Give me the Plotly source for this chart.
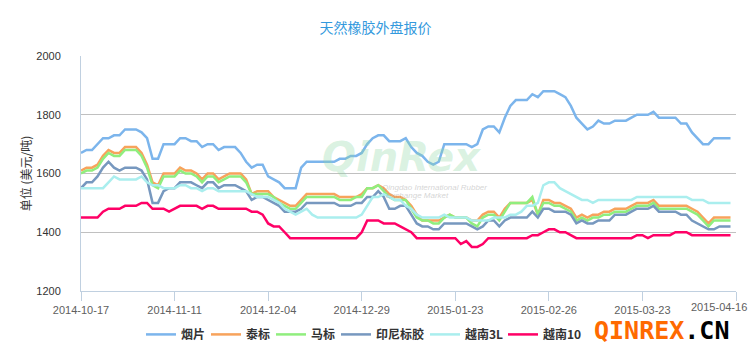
import plotly.graph_objects as go

# ---- data (USD/ton) ----
tick_labels = ["2014-10-17", "2014-11-11", "2014-12-04", "2014-12-29",
               "2015-01-23", "2015-02-26", "2015-03-23", "2015-04-16"]
tick_positions = [0, 17, 34, 51, 68, 85, 102, 119]

series_names = ["烟片", "泰标", "马标", "印尼标胶", "越南3L", "越南10"]

yanpian = [1670, 1680, 1680, 1700, 1720, 1720, 1730, 1730, 1750, 1750,
           1750, 1740, 1720, 1650, 1650, 1700, 1700, 1700, 1720, 1720,
           1710, 1710, 1690, 1700, 1700, 1680, 1690, 1690, 1690, 1670,
           1640, 1620, 1630, 1630, 1590, 1580, 1570, 1550, 1550, 1550,
           1620, 1640, 1640, 1640, 1640, 1640, 1640, 1650, 1650, 1660,
           1660, 1670, 1700, 1720, 1730, 1730, 1710, 1710, 1710, 1720,
           1690, 1670, 1660, 1640, 1630, 1640, 1700, 1700, 1700, 1700,
           1700, 1690, 1700, 1750, 1760, 1760, 1740, 1790, 1830, 1850,
           1850, 1850, 1870, 1860, 1880, 1880, 1880, 1870, 1860, 1830,
           1790, 1770, 1750, 1760, 1780, 1770, 1770, 1780, 1780, 1780,
           1790, 1800, 1800, 1800, 1810, 1790, 1790, 1790, 1790, 1770,
           1770, 1740, 1720, 1700, 1700, 1720, 1720, 1720, 1720]

taibiao = [1610, 1620, 1620, 1630, 1660, 1680, 1670, 1670, 1690, 1690,
           1690, 1670, 1630, 1570, 1560, 1600, 1600, 1600, 1620, 1610,
           1610, 1600, 1580, 1600, 1600, 1580, 1590, 1600, 1600, 1600,
           1580, 1530, 1540, 1540, 1540, 1520, 1510, 1500, 1490, 1490,
           1510, 1530, 1530, 1530, 1530, 1530, 1530, 1520, 1520, 1520,
           1520, 1530, 1550, 1550, 1560, 1550, 1530, 1520, 1520, 1510,
           1490, 1460, 1440, 1440, 1440, 1440, 1450, 1460, 1450, 1450,
           1450, 1440, 1440, 1460, 1470, 1470, 1450, 1480, 1500, 1500,
           1500, 1500, 1510, 1460, 1510, 1510, 1500, 1500, 1490, 1480,
           1450, 1460, 1450, 1460, 1460, 1470, 1470, 1480, 1480, 1480,
           1490, 1500, 1500, 1500, 1510, 1490, 1490, 1490, 1490, 1490,
           1490, 1480, 1470, 1450, 1430, 1450, 1450, 1450, 1450]

mabiao = [1600, 1610, 1610, 1620, 1650, 1670, 1660, 1660, 1680, 1680,
          1680, 1660, 1620, 1560, 1550, 1590, 1590, 1590, 1610, 1600,
          1600, 1590, 1570, 1590, 1590, 1570, 1580, 1590, 1590, 1590,
          1570, 1530, 1530, 1530, 1530, 1520, 1500, 1490, 1480, 1480,
          1500, 1520, 1520, 1520, 1520, 1520, 1520, 1510, 1510, 1510,
          1520, 1520, 1550, 1550, 1560, 1540, 1520, 1510, 1510, 1510,
          1480, 1450, 1440, 1440, 1430, 1430, 1450, 1460, 1450, 1450,
          1450, 1430, 1420, 1450, 1460, 1460, 1440, 1470, 1500, 1500,
          1500, 1500, 1520, 1460, 1500, 1500, 1490, 1490, 1480, 1470,
          1440, 1450, 1440, 1450, 1450, 1460, 1460, 1470, 1470, 1470,
          1480, 1490, 1490, 1490, 1500, 1480, 1480, 1480, 1480, 1480,
          1480, 1470, 1460, 1440, 1420, 1440, 1440, 1440, 1440]

yinni = [1550, 1570, 1570, 1590, 1620, 1640, 1620, 1610, 1620, 1620,
         1620, 1610, 1580, 1500, 1500, 1540, 1550, 1550, 1570, 1570,
         1570, 1560, 1550, 1570, 1570, 1550, 1560, 1560, 1560, 1550,
         1540, 1510, 1520, 1520, 1510, 1500, 1490, 1470, 1470, 1470,
         1480, 1500, 1500, 1500, 1500, 1500, 1500, 1490, 1490, 1490,
         1500, 1500, 1520, 1520, 1540, 1520, 1480, 1480, 1490, 1490,
         1460, 1430, 1420, 1420, 1410, 1410, 1430, 1430, 1430, 1430,
         1430, 1420, 1410, 1420, 1440, 1440, 1420, 1440, 1450, 1450,
         1450, 1450, 1470, 1450, 1480, 1480, 1470, 1470, 1470, 1460,
         1430, 1440, 1430, 1430, 1440, 1440, 1440, 1460, 1460, 1460,
         1470, 1480, 1480, 1480, 1490, 1470, 1470, 1470, 1470, 1460,
         1460, 1440, 1430, 1420, 1410, 1410, 1420, 1420, 1420]

yuenan3l = [1550, 1550, 1550, 1550, 1550, 1570, 1590, 1580, 1580, 1580,
            1580, 1590, 1570, 1560, 1560, 1550, 1550, 1550, 1560, 1560,
            1550, 1550, 1540, 1550, 1550, 1540, 1540, 1540, 1540, 1540,
            1540, 1530, 1520, 1520, 1520, 1510, 1500, 1480, 1470, 1460,
            1470, 1480, 1460, 1450, 1450, 1450, 1450, 1450, 1450, 1450,
            1450, 1460, 1490, 1520, 1520, 1530, 1520, 1510, 1510, 1490,
            1480, 1460, 1450, 1450, 1450, 1450, 1460, 1450, 1450, 1450,
            1450, 1440, 1440, 1440, 1440, 1450, 1450, 1450, 1460, 1460,
            1470, 1490, 1490, 1500, 1560, 1570, 1570, 1550, 1540, 1530,
            1520, 1510, 1510, 1500, 1510, 1510, 1510, 1510, 1510, 1510,
            1510, 1520, 1520, 1520, 1520, 1520, 1520, 1520, 1520, 1520,
            1520, 1510, 1510, 1510, 1500, 1500, 1500, 1500, 1500]

yuenan10 = [1450, 1450, 1450, 1450, 1470, 1480, 1480, 1480, 1490, 1490,
            1490, 1500, 1500, 1480, 1480, 1480, 1470, 1480, 1490, 1490,
            1490, 1490, 1480, 1490, 1490, 1480, 1480, 1480, 1480, 1480,
            1480, 1470, 1470, 1460, 1430, 1420, 1420, 1400, 1380, 1380,
            1380, 1380, 1380, 1380, 1380, 1380, 1380, 1380, 1380, 1380,
            1380, 1400, 1440, 1440, 1440, 1430, 1430, 1430, 1420, 1410,
            1400, 1380, 1380, 1380, 1380, 1380, 1380, 1380, 1380, 1360,
            1370, 1350, 1350, 1360, 1380, 1380, 1380, 1380, 1380, 1380,
            1380, 1380, 1390, 1390, 1400, 1410, 1410, 1400, 1400, 1390,
            1380, 1380, 1380, 1380, 1380, 1380, 1380, 1380, 1380, 1380,
            1380, 1390, 1390, 1380, 1390, 1390, 1390, 1390, 1400, 1400,
            1400, 1390, 1390, 1390, 1390, 1390, 1390, 1390, 1390]

all_series = [yanpian, taibiao, mabiao, yinni, yuenan3l, yuenan10]
colors = ["#7cb5ec", "#f7a35c", "#90ee7e", "#7798bf", "#aaeeee", "#ff0066"]
legend_widths = [20, 20, 20, 44, 33, 40]

FONT = "Arial, 'Liberation Sans', 'Noto Sans CJK SC', sans-serif"
CJK = "'Noto Sans CJK SC', 'Microsoft YaHei', sans-serif"

fig = go.Figure()
for name, vals, col, lw in zip(series_names, all_series, colors, legend_widths):
    fig.add_trace(go.Scatter(
        x=list(range(len(vals))), y=vals, name=name, mode="lines",
        line=dict(color=col, width=2.5), hoverinfo="skip", legendwidth=lw))

# last date label is justified inside the chart, as in the reference
fig.add_annotation(xref="x", yref="paper", x=tick_positions[-1], y=-0.068,
                   xanchor="right", yanchor="middle", xshift=13,
                   text=tick_labels[-1], showarrow=False,
                   font=dict(family=FONT, size=11, color="#606060"))

# watermark texts
fig.add_annotation(xref="paper", yref="paper", x=0.49, y=0.57,
                   text="<b><i>QinRex</i></b>", showarrow=False,
                   font=dict(family="'DejaVu Sans', sans-serif", size=40,
                             color="rgba(140,215,165,0.33)"))
fig.add_annotation(xref="paper", yref="paper", x=0.54, y=0.44,
                   text="<i>Qingdao International Rubber</i>", showarrow=False,
                   font=dict(family=FONT, size=8, color="rgba(170,170,170,0.5)"))
fig.add_annotation(xref="paper", yref="paper", x=0.513, y=0.405,
                   text="<i>Exchange Market</i>", showarrow=False,
                   font=dict(family=FONT, size=8, color="rgba(170,170,170,0.5)"))
fig.add_annotation(xref="paper", yref="paper", x=0.887, y=-0.168,
                   xanchor="center", yanchor="middle", showarrow=False,
                   text="<b><span style='color:#ff6a00'>QINREX</span>"
                        "<span style='color:#000000'>.CN</span></b>",
                   font=dict(family="'DejaVu Sans Mono', monospace", size=25))

fig.update_layout(
    width=751, height=357, autosize=False,
    margin=dict(l=81, r=15, t=56, b=66, autoexpand=False),
    paper_bgcolor="white", plot_bgcolor="white",
    font=dict(family=FONT, size=11, color="#333333"),
    title=dict(text="天然橡胶外盘报价", x=0.5, xanchor="center",
               y=1 - 28 / 357, yanchor="middle",
               font=dict(family=CJK, size=14, color="#3399dd")),
    showlegend=True,
    legend=dict(orientation="h", x=0.0916, xanchor="left", y=-0.123,
                yanchor="top",
                font=dict(family=CJK, size=12, color="#333333", weight="bold"),
                itemwidth=30, bgcolor="rgba(0,0,0,0)"),
    xaxis=dict(range=[0, 119], tickmode="array", tickvals=tick_positions,
               ticktext=tick_labels[:-1] + [""], ticks="outside", ticklen=9,
               tickcolor="#c0d0e0", showline=True, linecolor="#c0d0e0",
               showgrid=False, zeroline=False, automargin=False,
               tickfont=dict(size=11, color="#606060")),
    yaxis=dict(range=[1200, 2000], dtick=200, tick0=1200, showgrid=True,
               gridcolor="#c0c0c0", gridwidth=1, showline=True,
               linecolor="#c0d0e0", zeroline=False, ticks="",
               ticklabelstandoff=17, automargin=False,
               tickfont=dict(size=11, color="#333333"),
               title=dict(text="单位 (美元/吨)", standoff=2,
                          font=dict(family=CJK, size=12, color="#333333"))),
)

fig.write_html("out.html",
               config={"displayModeBar": False},
               post_script="document.body.style.margin='0';"
                           "document.body.style.overflow='hidden';")
